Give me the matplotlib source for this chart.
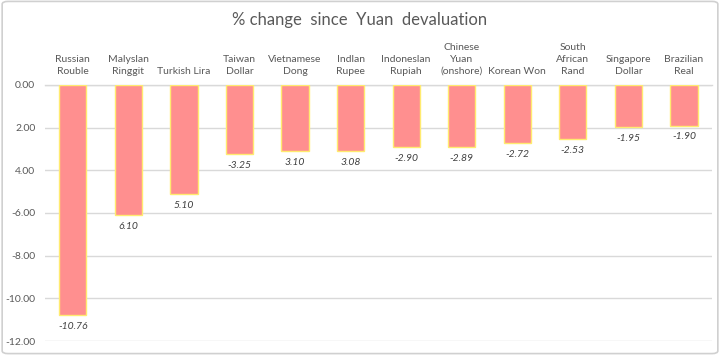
import matplotlib
matplotlib.use("Agg")
import matplotlib.pyplot as plt
from matplotlib.patches import FancyBboxPatch
import matplotlib.transforms as mtrans

categories = ["Russian\nRouble", "Malyslan\nRinggit", "Turkish Lira", "Taiwan\nDollar",
              "Vietnamese\nDong", "Indlan\nRupee", "Indoneslan\nRupiah", "Chinese\nYuan\n(onshore)",
              "Korean Won", "South\nAfrican\nRand", "Singapore\nDollar", "Brazilian\nReal"]
values = [-10.76, -6.10, -5.10, -3.25, -3.10, -3.08, -2.90, -2.89, -2.72, -2.53, -1.95, -1.90]
value_labels = ["-10.76", "6.10", "5.10", "-3.25", "3.10", "3.08", "-2.90", "-2.89",
                "-2.72", "-2.53", "-1.95", "-1.90"]
yticks = [0, -2, -4, -6, -8, -10, -12]
ytick_labels = ["0.00", "2.00", "4.00", "-6.00", "-8.00", "-10.00", "-12.00"]
title = "% change  since  Yuan  devaluation"

plt.rcParams['font.family'] = ["Lato", "DejaVu Sans"]

fig = plt.figure(figsize=(7.2, 3.55), dpi=100)
fig.patches.append(FancyBboxPatch((0.003, 0.004), 0.994, 0.992, boxstyle="round,pad=0,rounding_size=0.008",
                                  transform=fig.transFigure, fill=False, edgecolor="#D0D0D0", linewidth=1.2))
ax = fig.add_axes([0.0625, 0.0394, 0.926, 0.7212])
x = list(range(len(values)))
ax.bar(x, values, width=0.49, color="#FF8F8F", edgecolor="#FFEB70", linewidth=1.0, zorder=3)
ax.set_xlim(-0.5, len(values) - 0.5)
ax.set_ylim(-12, 0)
ax.set_yticks(yticks)
ax.set_yticklabels(ytick_labels, fontsize=7.5, color="#595959")
ax.tick_params(axis='y', length=0, pad=7)
ax.set_xticks([])
for s in ax.spines.values():
    s.set_visible(False)
ax.grid(axis='y', color="#D9D9D9", linewidth=1, zorder=0)
ax.set_axisbelow(True)
ax.axhline(0, color="#D9D9D9", linewidth=1, zorder=1, clip_on=False)

trans = mtrans.blended_transform_factory(ax.transData, ax.transAxes)
for i, c in enumerate(categories):
    ax.text(i, 1.035, c, transform=trans, ha='center', va='bottom', fontsize=7.5,
            color="#595959", linespacing=1.45)
for i, (v, lab) in enumerate(zip(values, value_labels)):
    ax.annotate(lab, (i, v), xytext=(0, -5), textcoords='offset points', ha='center', va='top',
                fontsize=7.5, color="#404040", style='italic')

fig.text(0.5, 0.945, title, ha='center', va='center', fontsize=12, color="#595959")
fig.savefig("out.png", dpi=100)
